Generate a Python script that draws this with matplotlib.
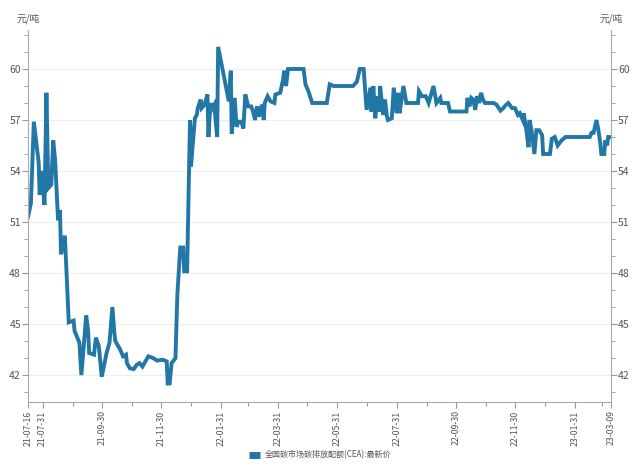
import matplotlib
matplotlib.use("Agg")
import matplotlib.pyplot as plt
import matplotlib.dates as mdates
from matplotlib.ticker import MultipleLocator
from matplotlib.lines import Line2D
import pandas as pd

plt.rcParams['font.family'] = ['Noto Sans CJK SC', 'DejaVu Sans']

dates = [
    "2021-07-16", "2021-07-19", "2021-07-22", "2021-07-27", "2021-07-28", "2021-07-30",
    "2021-08-02", "2021-08-04", "2021-08-06", "2021-08-09", "2021-08-11", "2021-08-13",
    "2021-08-16", "2021-08-18", "2021-08-19", "2021-08-23", "2021-08-25", "2021-08-27",
    "2021-09-01", "2021-09-02", "2021-09-07", "2021-09-09", "2021-09-14", "2021-09-16",
    "2021-09-17", "2021-09-22", "2021-09-24", "2021-09-27", "2021-09-30", "2021-10-05",
    "2021-10-08", "2021-10-11", "2021-10-13", "2021-10-14", "2021-10-19", "2021-10-22",
    "2021-10-25", "2021-10-26", "2021-10-29", "2021-11-02", "2021-11-05", "2021-11-08",
    "2021-11-11", "2021-11-15", "2021-11-17", "2021-11-22", "2021-11-26", "2021-12-02",
    "2021-12-06", "2021-12-07", "2021-12-09", "2021-12-11", "2021-12-15", "2021-12-17",
    "2021-12-20", "2021-12-23", "2021-12-24", "2021-12-27", "2021-12-30", "2021-12-31",
    "2022-01-04", "2022-01-06", "2022-01-07", "2022-01-10", "2022-01-11", "2022-01-14",
    "2022-01-17", "2022-01-18", "2022-01-20", "2022-01-21", "2022-01-24", "2022-01-27",
    "2022-01-28", "2022-02-08", "2022-02-10", "2022-02-11", "2022-02-14", "2022-02-16",
    "2022-02-18", "2022-02-21", "2022-02-23", "2022-02-25", "2022-02-28", "2022-03-03",
    "2022-03-05", "2022-03-07", "2022-03-09", "2022-03-11", "2022-03-14", "2022-03-16",
    "2022-03-17", "2022-03-20", "2022-03-23", "2022-03-27", "2022-03-28", "2022-04-02",
    "2022-04-05", "2022-04-06", "2022-04-08", "2022-04-10", "2022-04-26", "2022-04-28",
    "2022-05-01", "2022-05-05", "2022-05-20", "2022-05-23", "2022-05-27", "2022-06-16",
    "2022-06-20", "2022-06-23", "2022-06-27", "2022-06-30", "2022-07-04", "2022-07-05",
    "2022-07-07", "2022-07-09", "2022-07-11", "2022-07-13", "2022-07-14", "2022-07-17",
    "2022-07-19", "2022-07-21", "2022-07-22", "2022-07-26", "2022-07-28", "2022-07-31",
    "2022-08-02", "2022-08-03", "2022-08-07", "2022-08-10", "2022-08-22", "2022-08-23",
    "2022-08-26", "2022-08-30", "2022-09-02", "2022-09-07", "2022-09-10", "2022-09-14",
    "2022-09-15", "2022-09-22", "2022-09-24", "2022-10-11", "2022-10-12", "2022-10-14",
    "2022-10-16", "2022-10-18", "2022-10-20", "2022-10-22", "2022-10-24", "2022-10-26",
    "2022-10-28", "2022-10-30", "2022-11-08", "2022-11-11", "2022-11-15", "2022-11-18",
    "2022-11-20", "2022-11-23", "2022-11-27", "2022-11-30", "2022-12-03", "2022-12-05",
    "2022-12-08", "2022-12-09", "2022-12-11", "2022-12-14", "2022-12-15", "2022-12-17",
    "2022-12-20", "2022-12-22", "2022-12-25", "2022-12-28", "2022-12-29", "2023-01-05",
    "2023-01-07", "2023-01-10", "2023-01-13", "2023-01-17", "2023-01-21", "2023-02-15",
    "2023-02-17", "2023-02-19", "2023-02-22", "2023-02-24", "2023-02-26", "2023-02-27",
    "2023-03-02", "2023-03-03", "2023-03-05", "2023-03-06", "2023-03-09",
]

prices = [
    51.3, 52.1, 56.9, 54.5, 52.6, 54.0,
    52.0, 58.6, 53.0, 53.2, 55.8, 54.6,
    51.1, 51.7, 49.1, 50.2, 47.6, 45.1,
    45.2, 44.6, 43.9, 42.0, 45.5, 44.6,
    43.3, 43.2, 44.2, 43.7, 41.9, 43.3,
    43.9, 46.0, 44.5, 44.0, 43.5, 43.1,
    43.2, 42.7, 42.4, 42.35, 42.6, 42.7,
    42.5, 42.9, 43.1, 43.0, 42.85, 42.9,
    42.8, 41.5, 41.5, 42.7, 43.0, 46.8,
    49.5, 49.5, 48.1, 48.1, 57.0, 54.25,
    57.1, 57.3, 57.7, 58.2, 57.7, 57.9,
    58.5, 56.0, 58.0, 57.6, 57.9, 56.0,
    61.3, 58.1, 59.9, 56.2, 58.3, 56.6,
    56.9, 56.9, 56.5, 58.5, 57.8, 57.8,
    57.5, 57.0, 57.8, 57.2, 57.9, 57.0,
    58.0, 58.4, 58.1, 58.0, 58.5, 58.6,
    59.4, 59.9, 59.0, 60.0, 60.0, 59.1,
    58.7, 58.0, 58.0, 59.1, 59.0, 59.0,
    59.25, 60.0, 60.0, 57.6, 58.9, 57.5,
    59.0, 57.1, 58.4, 57.5, 59.0, 57.3,
    58.2, 57.2, 57.0, 57.1, 58.9, 57.4,
    58.6, 57.4, 59.0, 58.0, 58.0, 58.7,
    58.4, 58.4, 58.0, 59.0, 58.0, 58.3,
    58.0, 58.0, 57.5, 57.5, 58.3, 57.8,
    58.3, 58.2, 57.6, 58.4, 58.0, 58.6,
    58.2, 58.0, 58.0, 57.9, 57.55, 57.7,
    57.85, 58.0, 57.7, 57.7, 57.3, 57.4,
    57.0, 57.4, 56.7, 55.4, 57.0, 56.4,
    55.0, 56.4, 56.4, 56.1, 55.0, 55.0,
    55.9, 56.0, 55.5, 55.8, 56.0, 56.0,
    56.25, 56.25, 57.0, 56.4, 55.6, 55.0,
    55.0, 55.8, 55.5, 56.0, 56.0,
]

series_name = "全国碳市场碳排放配额(CEA):最新价"
unit_label = "元/吨"
x_tick_dates = ["2021-07-16", "2021-07-31", "2021-09-30", "2021-11-30", "2022-01-31",
                "2022-03-31", "2022-05-31", "2022-07-31", "2022-09-30", "2022-11-30",
                "2023-01-31", "2023-03-09"]
y_ticks = [42, 45, 48, 51, 54, 57, 60]

x = pd.to_datetime(dates)
line_color = "#2277a6"
grey = "#999999"
text_grey = "#555555"

fig = plt.figure(figsize=(6.4, 4.67), dpi=100)
ax = fig.add_axes([0.04375, 0.139, 0.911, 0.797])

ax.plot(x, prices, color=line_color, linewidth=2.8, solid_joinstyle='miter')

ax.set_xlim(pd.Timestamp(x_tick_dates[0]), pd.Timestamp(x_tick_dates[-1]))
ax.set_ylim(40.41, 62.3)

ax.set_yticks(y_ticks)
ax.yaxis.set_minor_locator(MultipleLocator(1))
ax.grid(axis='y', which='major', color='#eeeeee', linewidth=0.8)
ax.set_axisbelow(True)

xt = pd.to_datetime(x_tick_dates)
ax.set_xticks(xt)
ax.set_xticklabels([d.strftime('%y-%m-%d') for d in xt], rotation=90, fontsize=6.3, color=text_grey)
ax.xaxis.set_minor_locator(mdates.MonthLocator(bymonthday=-1))

ax.tick_params(axis='y', which='both', left=True, right=True, labelleft=True, labelright=True,
               direction='out', colors=grey, labelcolor=text_grey, labelsize=7.5)
ax.tick_params(axis='y', which='major', length=4, width=0.8, pad=1)
ax.tick_params(axis='y', which='minor', length=3, width=0.6)
ax.tick_params(axis='x', which='both', direction='out', colors=grey, labelcolor=text_grey)
ax.tick_params(axis='x', which='major', length=4, width=0.8, pad=2)
ax.tick_params(axis='x', which='minor', length=3, width=0.8)

ax.spines['top'].set_visible(False)
for s in ['left', 'right', 'bottom']:
    ax.spines[s].set_color('#aaaaaa')
    ax.spines[s].set_linewidth(0.8)

fig.text(28 / 640, 1 - 19 / 467, unit_label, ha='center', va='center', fontsize=7, color=text_grey)
fig.text(611 / 640, 1 - 19 / 467, unit_label, ha='center', va='center', fontsize=7, color=text_grey)

handle = Line2D([0], [0], color=line_color, linewidth=5, solid_capstyle='butt')
fig.legend([handle], [series_name], loc='center', bbox_to_anchor=(0.5, 1 - 455 / 467),
           frameon=False, fontsize=5.8, handlelength=1.4, handletextpad=0.5, labelcolor=text_grey)

fig.savefig("out.png", dpi=100)
